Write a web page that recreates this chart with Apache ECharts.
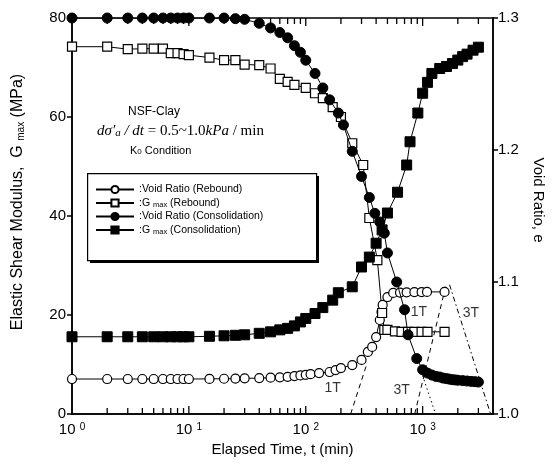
<!DOCTYPE html>
<html><head><meta charset="utf-8">
<script src="https://cdn.jsdelivr.net/npm/echarts@6/dist/echarts.min.js"></script>
<style>html,body{margin:0;padding:0;background:#fff}#c{width:557px;height:466px}</style>
</head><body><div id="c"></div>
<script>
// ---- data ----
// Void ratio, rebound (open circles)
const rvT = [1,2,3,4,5,6,7,8,9,10,15,20,25,30,40,50,60,70,80,90,100,110,130,160,180,200,250,300,340,370,400,430,445,455,500,560,640,730,850,980,1090,1540];
const rvE = [1.0265,1.0265,1.0265,1.0265,1.0265,1.0265,1.0265,1.0265,1.0265,1.0265,1.0266,1.0267,1.0268,1.027,1.0272,1.0275,1.0278,1.0282,1.0287,1.0292,1.0297,1.0302,1.031,1.0318,1.0333,1.0348,1.0371,1.041,1.047,1.0508,1.0583,1.0712,1.0773,1.0826,1.0886,1.0917,1.092,1.0922,1.0924,1.0924,1.0925,1.0925];
// Gmax, rebound (open squares)
const rgT = [1,2,3,4,5,6,7,8,9,10,15,20,25,30,40,50,60,70,80,100,120,140,170,200,250,310,350,410,450,470,500,580,660,750,850,980,1100,1540];
const rgG = [74.2,74.2,73.7,73.8,73.8,73.8,72.9,72.9,72.7,72.5,72.0,71.5,71.5,70.6,70.5,69.8,67.7,67.1,66.5,65.9,64.8,63.8,62.0,60.0,54.7,50.3,39.6,31.1,20.4,17.0,17.0,16.7,16.6,16.6,16.6,16.6,16.6,16.6];
// Void ratio, consolidation (filled circles)
const cvT = [1,2,3,4,5,6,7,8,9,10,15,20,25,30,40,50,60,70,80,90,100,120,140,160,190,210,250,300,350,390,430,470,500,600,700,750,890,1000,1100,1200,1300,1400,1500,1600,1700,1800,1900,2000,2200,2400,2600,2800,3000];
const cvE = [1.3,1.3,1.3,1.3,1.3,1.3,1.3,1.3,1.3,1.3,1.3,1.3,1.2995,1.299,1.296,1.2925,1.289,1.285,1.279,1.274,1.268,1.258,1.247,1.238,1.228,1.219,1.199,1.18,1.164,1.152,1.1455,1.137,1.122,1.1,1.079,1.06,1.042,1.0335,1.031,1.0295,1.0285,1.028,1.0272,1.0268,1.0264,1.026,1.0258,1.0256,1.0253,1.025,1.0247,1.0245,1.0242];
// Gmax, consolidation (filled squares)
const cgT = [1,2,3,4,5,6,7,8,9,10,15,20,25,30,40,50,60,70,80,90,100,120,140,170,190,250,300,350,400,450,500,610,730,780,910,1000,1100,1200,1400,1600,1800,2000,2200,2400,2700,3000];
const cgG = [15.6,15.6,15.6,15.6,15.6,15.6,15.6,15.6,15.6,15.6,15.7,15.8,15.9,16.0,16.3,16.6,17.0,17.3,17.8,18.6,19.3,20.3,21.5,23.0,24.5,25.7,29.7,31.7,34.5,37.2,40.6,44.8,50.3,55.0,60.8,64.8,67.0,68.8,69.8,70.2,70.8,71.5,72.2,72.7,73.5,74.1];
// construction lines (t, Gmax scale)
const lineA = [[242,0],[331,9.9]];
const lineB = [[855,0],[1603,26.5]];
const lineC = [[943,9.5],[1291,0]];
const lineD = [[1700,26.1],[3813,0]];
const noteLabels = [[170,5.2,'1T'],[661,4.8,'3T'],[928,20.6,'1T'],[2584,20.4,'3T']];
// axis ticks
const xMajor = [1,10,100,1000];
const xMinor = [2,3,4,5,6,7,8,9,20,30,40,50,60,70,80,90,200,300,400,500,600,700,800,900,2000,3000];
const seriesNames = ['Void Ratio (Rebound)','Gmax (Rebound)','Void Ratio (Consolidation)','Gmax (Consolidation)'];

const zip = (a,b) => a.map((v,i)=>[v,b[i]]);
const ARIAL = '"Liberation Sans",Arial,sans-serif';
const SERIF = '"Liberation Serif","Times New Roman",serif';

const chart = echarts.init(document.getElementById('c'), null, {renderer:'canvas'});
const lineStyle = {color:'#000', width:1};
const tickData = xMajor.filter(v=>v>1).map(v=>[v,1]).concat(xMinor.map(v=>[v,0]));

chart.setOption({
  animation:false,
  backgroundColor:'#fff',
  grid:{left:72,right:64,top:18,bottom:52,show:true,borderColor:'#000',borderWidth:1.5,outerBoundsMode:'none',containLabel:false},
  xAxis:[{
    type:'log', logBase:10, min:1, max:4000,
    axisLine:{lineStyle:{color:'#000',width:1.5}},
    axisTick:{show:false}, splitLine:{show:false}, minorTick:{show:false},
    axisLabel:{color:'#000', fontFamily:ARIAL, fontSize:15, margin:8, showMaxLabel:false,
      formatter:(v)=>{const l=Math.log10(v); return Math.abs(l-Math.round(l))<1e-6 ? '10 {sup|'+Math.round(l)+'}' : '';},
      rich:{sup:{fontSize:10, fontFamily:ARIAL, verticalAlign:'top', color:'#000'}}},
    name:'Elapsed Time, t (min)', nameLocation:'middle', nameGap:28,
    nameTextStyle:{color:'#000', fontFamily:ARIAL, fontSize:15}
  }],
  yAxis:[{
    type:'value', min:0, max:80, interval:20, position:'left',
    axisLine:{show:true, lineStyle:{color:'#000',width:1.5}},
    axisTick:{show:true, inside:false, length:5, lineStyle:{color:'#000',width:1.5}},
    splitLine:{show:false},
    axisLabel:{color:'#000', fontFamily:ARIAL, fontSize:15, margin:6},
    name:'Elastic Shear Modulus,  G {sub|max} (MPa)', nameLocation:'middle', nameRotate:90, nameGap:46,
    nameTextStyle:{color:'#000', fontFamily:ARIAL, fontSize:16, padding:[0,0,0,28],
      rich:{sub:{fontSize:10, fontFamily:ARIAL, verticalAlign:'bottom', color:'#000'}}}
  },{
    type:'value', min:1.0, max:1.3, interval:0.1, position:'right',
    axisLine:{show:true, lineStyle:{color:'#000',width:1.5}},
    axisTick:{show:true, inside:false, length:5, lineStyle:{color:'#000',width:1.5}},
    splitLine:{show:false},
    axisLabel:{color:'#000', fontFamily:ARIAL, fontSize:15, margin:5, formatter:(v)=>v.toFixed(1)},
    name:'Void Ratio, e', nameLocation:'middle', nameRotate:-90, nameGap:38,
    nameTextStyle:{color:'#000', fontFamily:ARIAL, fontSize:15, padding:[0,32,0,0]}
  }],
  legend:{
    data:seriesNames, orient:'vertical', left:95, top:184, z:12,
    itemWidth:38, itemHeight:9, itemGap:2.5,
    padding:0,
    formatter:(n)=>':'+n.replace('Gmax','G {sub|max}'),
    textStyle:{color:'#000', fontFamily:ARIAL, fontSize:10.5,
      rich:{sub:{fontSize:7.5, fontFamily:ARIAL, verticalAlign:'bottom', color:'#000'}}}
  },
  graphic:[
    {type:'rect', z:10, left:90, top:176, shape:{width:229, height:87}, style:{fill:'#000'}},
    {type:'rect', z:11, left:87, top:173, shape:{width:229, height:87}, style:{fill:'#fff', stroke:'#000', lineWidth:1.2}},
    {type:'text', left:128, top:106, style:{text:'NSF-Clay', font:'12px '+ARIAL, fill:'#000'}},
    {type:'text', left:97, top:124, style:{
      text:'{i|dσ′}{s|a}{i| / dt }{n|= 0.5~1.0}{i|kPa}{n| / min}',
      rich:{
        i:{fontFamily:SERIF, fontStyle:'italic', fontSize:15, fill:'#000'},
        n:{fontFamily:SERIF, fontSize:15, fill:'#000'},
        s:{fontFamily:SERIF, fontStyle:'italic', fontSize:11, verticalAlign:'bottom', fill:'#000'}
      }}},
    {type:'text', left:130, top:145, style:{
      text:'K{s|0} Condition',
      font:'11px '+ARIAL, fill:'#000',
      rich:{s:{fontFamily:ARIAL, fontSize:8, verticalAlign:'bottom', fill:'#000'}}}}
  ],
  series:[
    {name:seriesNames[0], type:'line', yAxisIndex:1, data:zip(rvT,rvE), symbol:'circle', symbolSize:9,
      lineStyle, itemStyle:{color:'#fff', borderColor:'#000', borderWidth:1.2}, z:3},
    {name:seriesNames[1], type:'line', yAxisIndex:0, data:zip(rgT,rgG), symbol:'rect', symbolSize:9,
      lineStyle, itemStyle:{color:'#fff', borderColor:'#000', borderWidth:1.2}, z:3},
    {name:seriesNames[2], type:'line', yAxisIndex:1, data:zip(cvT,cvE), symbol:'circle', symbolSize:10,
      lineStyle, itemStyle:{color:'#000', borderColor:'#000', borderWidth:1}, z:4},
    {name:seriesNames[3], type:'line', yAxisIndex:0, data:zip(cgT,cgG), symbol:'rect', symbolSize:10,
      lineStyle, itemStyle:{color:'#000', borderColor:'#000', borderWidth:1}, z:4},
    {type:'line', yAxisIndex:0, data:lineA, symbol:'none', lineStyle:{color:'#000', width:1, type:[5,4]}, z:2, silent:true},
    {type:'line', yAxisIndex:0, data:lineB, symbol:'none', lineStyle:{color:'#000', width:1, type:[5,4]}, z:2, silent:true},
    {type:'line', yAxisIndex:0, data:lineC, symbol:'none', lineStyle:{color:'#000', width:1, type:[1.5,3]}, z:2, silent:true},
    {type:'line', yAxisIndex:0, data:lineD, symbol:'none', lineStyle:{color:'#000', width:1, type:[5,3,1.5,3]}, z:2, silent:true},
    {type:'scatter', yAxisIndex:0, data:noteLabels, symbolSize:0, silent:true,
      label:{show:true, position:'inside', formatter:(p)=>p.value[2], color:'#000', fontFamily:ARIAL, fontSize:14}},
    {type:'custom', xAxisIndex:0, yAxisIndex:0, data:tickData, silent:true, clip:false, z:5,
      renderItem:(params, api)=>{
        const t = api.value(0), major = api.value(1) === 1;
        const len = major ? 8 : 6;
        const b = api.coord([t,0]), tp = api.coord([t,80]);
        const st = {stroke:'#000', lineWidth:1.3};
        return {type:'group', children:[
          {type:'line', shape:{x1:b[0],y1:b[1],x2:b[0],y2:b[1]-len}, style:st},
          {type:'line', shape:{x1:tp[0],y1:tp[1],x2:tp[0],y2:tp[1]+len}, style:st}
        ]};
      }}
  ]
});
</script></body></html>
